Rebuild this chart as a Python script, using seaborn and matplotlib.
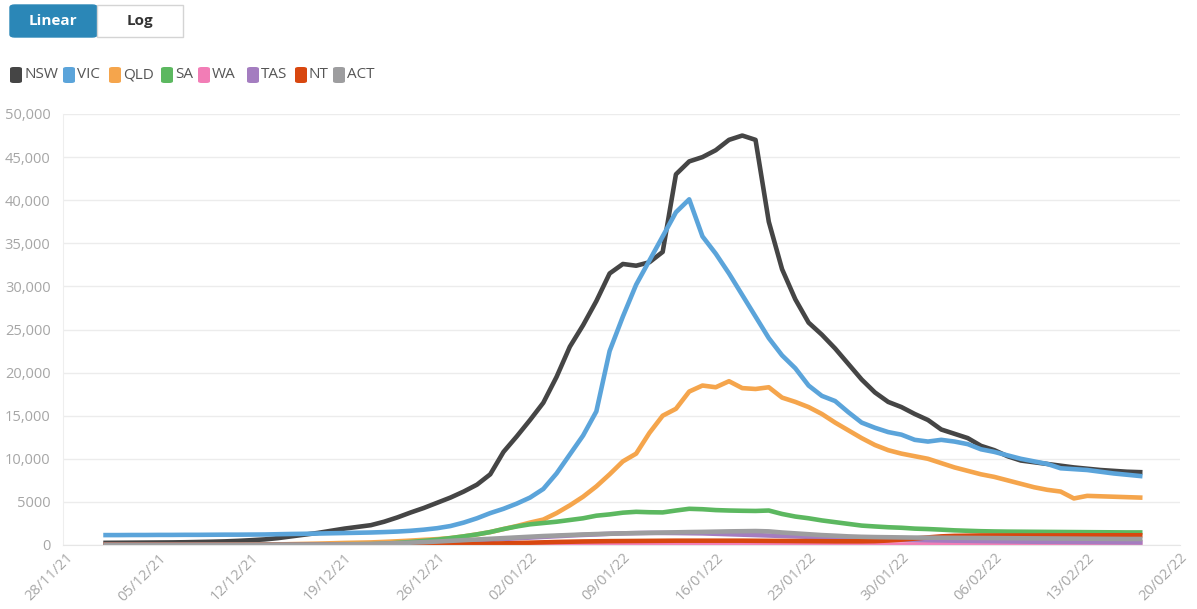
import pandas as pd
import numpy as np
import matplotlib
matplotlib.use("Agg")
import matplotlib.pyplot as plt
import matplotlib.dates as mdates
from matplotlib.patches import FancyBboxPatch, Rectangle
import seaborn as sns

# Daily values (7-day average style curve), 01/12/21 .. 17/02/22
start_date = "2021-12-01"

nsw = [250, 260, 270, 280, 290, 300, 320, 350, 380, 420,
       480, 560, 650, 800, 1000, 1200, 1400, 1650, 1900, 2100,
       2300, 2700, 3200, 3770, 4300, 4900, 5500, 6200, 7000, 8200,
       10800, 12600, 14500, 16500, 19500, 23000, 25500, 28300, 31500, 32600,
       32400, 32800, 34000, 43000, 44500, 45000, 45800, 47000, 47500, 47000,
       37500, 32000, 28500, 25800, 24400, 22800, 21000, 19200, 17700, 16600,
       16000, 15200, 14500, 13400, 12900, 12400, 11500, 11000, 10300, 9800,
       9600, 9400, 9200, 9000, 8850, 8700, 8600, 8500, 8450]

vic = [1150, 1150, 1160, 1160, 1170, 1170, 1180, 1180, 1190, 1200,
       1200, 1210, 1220, 1250, 1280, 1300, 1330, 1360, 1390, 1420,
       1450, 1500, 1560, 1650, 1780, 1950, 2200, 2600, 3100, 3700,
       4200, 4800, 5500, 6500, 8300, 10500, 12700, 15500, 22500, 26500,
       30200, 33000, 35800, 38600, 40100, 35800, 33800, 31500, 29000, 26500,
       24000, 22000, 20500, 18500, 17300, 16700, 15400, 14200, 13600, 13100,
       12800, 12200, 12000, 12200, 12000, 11700, 11100, 10800, 10400, 10000,
       9700, 9400, 8900, 8800, 8700, 8500, 8300, 8150, 8000]

qld = [10, 10, 10, 12, 12, 15, 15, 18, 20, 25,
       30, 40, 50, 70, 100, 130, 160, 200, 240, 270,
       300, 360, 430, 510, 600, 680, 800, 1000, 1230, 1500,
       1850, 2200, 2600, 2950, 3700, 4600, 5600, 6800, 8200, 9700,
       10600, 13000, 15000, 15800, 17800, 18500, 18300, 19000, 18200, 18100,
       18300, 17100, 16600, 16000, 15200, 14200, 13300, 12400, 11600, 11000,
       10600, 10300, 10000, 9500, 9000, 8600, 8200, 7900, 7500, 7100,
       6700, 6400, 6200, 5400, 5700, 5650, 5600, 5550, 5500]

sa = [5, 5, 5, 6, 6, 7, 8, 10, 12, 15,
      20, 25, 30, 40, 50, 60, 70, 80, 90, 95,
      100, 150, 250, 350, 480, 620, 800, 1000, 1230, 1500,
      1850, 2150, 2400, 2550, 2700, 2900, 3100, 3400, 3550, 3750,
      3850, 3800, 3780, 4000, 4200, 4150, 4050, 4000, 3970, 3950,
      4000, 3600, 3300, 3100, 2850, 2650, 2450, 2250, 2150, 2060,
      2000, 1900, 1850, 1780, 1700, 1650, 1600, 1570, 1550, 1540,
      1530, 1520, 1510, 1500, 1490, 1480, 1470, 1460, 1460]

wa = [0, 0, 0, 0, 0, 0, 0, 0, 0, 0,
      0, 0, 0, 0, 0, 0, 0, 0, 1, 1,
      1, 2, 2, 3, 3, 4, 4, 5, 5, 6,
      6, 7, 8, 8, 9, 10, 10, 11, 12, 12,
      13, 14, 15, 15, 16, 17, 18, 18, 19, 20,
      20, 22, 24, 26, 28, 30, 35, 40, 45, 50,
      60, 70, 80, 90, 100, 110, 120, 130, 140, 150,
      160, 170, 180, 190, 200, 210, 220, 230, 240]

tas = [0, 0, 0, 0, 0, 0, 0, 0, 0, 0,
       0, 1, 2, 5, 10, 15, 20, 30, 40, 60,
       80, 110, 150, 200, 250, 300, 360, 420, 500, 580,
       700, 780, 860, 940, 1020, 1100, 1170, 1230, 1300, 1350,
       1380, 1400, 1400, 1390, 1370, 1350, 1300, 1250, 1200, 1150,
       1100, 1050, 1000, 950, 900, 850, 800, 750, 700, 660,
       620, 590, 560, 530, 500, 480, 460, 440, 420, 400,
       380, 370, 360, 350, 340, 330, 320, 310, 300]

nt = [1, 1, 1, 1, 1, 1, 1, 1, 1, 1,
      1, 1, 2, 2, 3, 3, 4, 5, 5, 6,
      8, 10, 15, 20, 30, 40, 60, 80, 110, 150,
      190, 230, 270, 310, 350, 380, 410, 430, 450, 460,
      470, 480, 490, 500, 500, 500, 500, 500, 500, 490,
      480, 470, 460, 450, 440, 430, 430, 430, 450, 520,
      620, 750, 880, 1000, 1060, 1080, 1100, 1100, 1100, 1100,
      1100, 1110, 1110, 1120, 1120, 1120, 1130, 1130, 1130]

act = [5, 5, 5, 5, 5, 5, 6, 6, 7, 8,
       10, 12, 15, 18, 22, 30, 40, 55, 70, 90,
       120, 160, 210, 270, 330, 400, 480, 560, 640, 720,
       800, 880, 960, 1040, 1100, 1160, 1220, 1270, 1310, 1350,
       1380, 1410, 1440, 1470, 1500, 1520, 1550, 1580, 1600, 1620,
       1580, 1450, 1350, 1250, 1150, 1080, 1000, 950, 920, 900,
       880, 860, 850, 840, 830, 820, 810, 800, 790, 780,
       770, 760, 750, 740, 730, 720, 710, 700, 700]

states = ["NSW", "VIC", "QLD", "SA", "WA", "TAS", "NT", "ACT"]
colors = ["#454545", "#5ba4da", "#f5a54c", "#5cb860", "#f27db6", "#a47dc0", "#d8470f", "#9d9d9f"]
series = [nsw, vic, qld, sa, wa, tas, nt, act]

y_ticks = list(range(0, 50001, 5000))

dates = pd.date_range(start_date, periods=len(nsw), freq="D")
frames = []
for name, vals in zip(states, series):
    frames.append(pd.DataFrame({"date": dates, "cases": vals, "state": name}))
df = pd.concat(frames, ignore_index=True)

W, H = 1197, 609
plt.rcParams["font.family"] = ["Open Sans", "DejaVu Sans"]

fig = plt.figure(figsize=(W / 100, H / 100), dpi=100)
ax = fig.add_axes([63 / W, 1 - 545 / H, (1180 - 63) / W, (545 - 114) / H])

sns.lineplot(data=df, x="date", y="cases", hue="state", hue_order=states,
             palette=colors, linewidth=3.3, legend=False, ax=ax)

ax.set_ylim(0, 50000)
ax.set_xlim(pd.Timestamp("2021-11-27 19:00"), pd.Timestamp("2022-02-20"))
ax.set_yticks(y_ticks)
ax.set_yticklabels([f"{v:,}" if v >= 10000 else str(v) for v in y_ticks])
ax.xaxis.set_major_locator(mdates.WeekdayLocator(byweekday=mdates.SU))
ax.xaxis.set_major_formatter(mdates.DateFormatter("%d/%m/%y"))
ax.set_xlabel("")
ax.set_ylabel("")
ax.grid(axis="y", color="#ececec", linewidth=1)
ax.set_axisbelow(True)
for s in ["top", "right"]:
    ax.spines[s].set_visible(False)
ax.spines["left"].set_color("#eeeeee")
ax.spines["bottom"].set_color("#e6e6e6")
ax.tick_params(axis="y", length=0, pad=9, labelsize=10.5, labelcolor="#a6a6a6")
ax.tick_params(axis="x", length=0, pad=4, labelsize=10.5, labelcolor="#a6a6a6")
for lab in ax.get_xticklabels():
    lab.set_rotation(45)
    lab.set_ha("right")
    lab.set_rotation_mode("anchor")


def fx(x):
    return x / W


def fy(y):
    return 1 - y / H


# Linear / Log toggle
fig.patches.append(FancyBboxPatch((fx(10), fy(37)), fx(87), 32 / H,
                                  boxstyle="round,pad=0,rounding_size=0.004",
                                  transform=fig.transFigure, facecolor="#2b87b7",
                                  edgecolor="#2b87b7", linewidth=1))
fig.patches.append(Rectangle((fx(97), fy(37)), fx(86), 32 / H,
                             transform=fig.transFigure, facecolor="white",
                             edgecolor="#d4d4d4", linewidth=1))
fig.text(fx(53), fy(21), "Linear", color="white", fontsize=11, fontweight="bold",
         ha="center", va="center")
fig.text(fx(140), fy(21), "Log", color="#333333", fontsize=11, fontweight="bold",
         ha="center", va="center")

# legend
sq_x = [10, 63, 109, 161, 198, 247, 295, 333]
for name, col, x0 in zip(states, colors, sq_x):
    fig.patches.append(FancyBboxPatch((fx(x0), fy(83)), fx(12), 16 / H,
                                      boxstyle="round,pad=0,rounding_size=0.003",
                                      transform=fig.transFigure, facecolor=col,
                                      edgecolor="none"))
    fig.text(fx(x0 + 14), fy(75), name, color="#555555", fontsize=11,
             ha="left", va="center")

fig.savefig("out.png", dpi=100, facecolor="white")
